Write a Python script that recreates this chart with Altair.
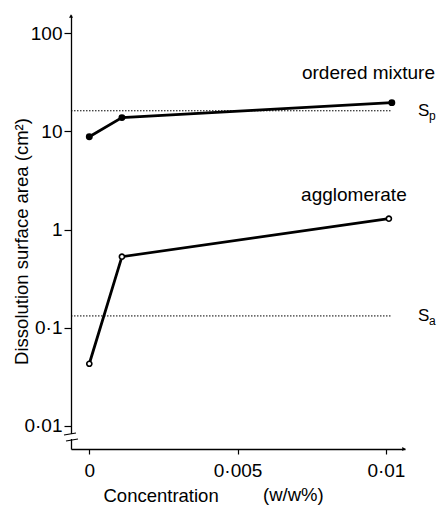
import altair as alt
import pandas as pd

# ---- data ----
conc_ordered = [0.0, 0.0011, 0.0102]
area_ordered = [8.8, 13.8, 19.6]
conc_agglom = [0.0, 0.0011, 0.0101]
area_agglom = [0.043, 0.53, 1.29]
ref_names = ["Sp", "Sa"]
ref_levels = [16.2, 0.132]
ref_x_start = -0.000617
ref_x_end = 0.0102
x_ticks = [0, 0.005, 0.01]
y_ticks = [0.01, 0.1, 1, 10, 100]
series_labels = ["ordered mixture", "agglomerate"]
label_x = [0.00717, 0.00714]
label_y = [34.4, 1.97]

X_DOMAIN = [-0.000617, 0.010644]
Y_DOMAIN = [0.00583, 153]
FONT = "Liberation Sans"

df_ord = pd.DataFrame({"x": conc_ordered, "y": area_ordered})
df_agg = pd.DataFrame({"x": conc_agglom, "y": area_agglom})
df_ref = pd.DataFrame({"x": [ref_x_start] * 2, "x2": [ref_x_end] * 2,
                       "y": ref_levels, "name": ref_names})
df_lab = pd.DataFrame({"x": label_x, "y": label_y, "t": series_labels})

xs = alt.Scale(domain=X_DOMAIN, nice=False, zero=False)
ys = alt.Scale(type="log", domain=Y_DOMAIN, nice=False)

x_axis = alt.Axis(values=x_ticks, grid=False, tickSize=5, labelPadding=7,
                  labelExpr="replace(format(datum.value, ''), '.', '·')",
                  labelFont=FONT, labelFontSize=19, labelColor="black",
                  domainColor="black", domainWidth=1.3, tickColor="black", tickWidth=1.2,
                  title="Concentration", titleFont=FONT, titleFontSize=18.5,
                  titleFontWeight="normal", titleColor="black",
                  titleX=32, titleY=52, titleAlign="left", titleBaseline="alphabetic",
                  titleAnchor="start")
y_axis = alt.Axis(values=y_ticks, grid=False, tickSize=7, labelPadding=2,
                  labelExpr="replace(format(datum.value, ''), '.', '·')",
                  labelFont=FONT, labelFontSize=19, labelColor="black",
                  domainColor="black", domainWidth=1.3, tickColor="black", tickWidth=1.2,
                  title="Dissolution surface area (cm²)", titleFont=FONT,
                  titleFontSize=18.5, titleFontWeight="normal", titleColor="black",
                  titleX=-44, titleY=226, titleAlign="center", titleBaseline="alphabetic",
                  titleAngle=270)

X = alt.X("x:Q", scale=xs, axis=x_axis, title="Concentration")
Y = alt.Y("y:Q", scale=ys, axis=y_axis, title="Dissolution surface area (cm²)")

ref_lines = alt.Chart(df_ref).mark_rule(color="black", strokeWidth=1,
                                         strokeDash=[1.5, 1.5]).encode(
    x=X, x2="x2:Q", y=Y)

line_ord = alt.Chart(df_ord).mark_line(color="black", strokeWidth=2.8).encode(x=X, y=Y)
pts_ord = alt.Chart(df_ord).mark_point(filled=True, color="black", size=48,
                                       opacity=1).encode(x=X, y=Y)
line_agg = alt.Chart(df_agg).mark_line(color="black", strokeWidth=2.8).encode(x=X, y=Y)
pts_agg = alt.Chart(df_agg).mark_point(filled=True, fill="white", stroke="black",
                                       strokeWidth=1.6, size=26, opacity=1).encode(x=X, y=Y)

labels = alt.Chart(df_lab).mark_text(font=FONT, fontSize=19, align="left",
                                     baseline="alphabetic", color="black").encode(
    x=X, y=Y, text="t:N")

# S_p and S_a annotations
df_s = pd.DataFrame({"y": ref_levels, "s": ["S", "S"], "sub": ["p", "a"]})
s_main = alt.Chart(df_s).mark_text(font=FONT, fontSize=17, align="left",
                                   baseline="middle", color="black").encode(
    x=alt.value(347), y=Y, text="s:N")
s_sub = alt.Chart(df_s).mark_text(font=FONT, fontSize=12, align="left",
                                  baseline="middle", color="black", dy=5).encode(
    x=alt.value(358), y=Y, text="sub:N")

unit = alt.Chart(pd.DataFrame({"t": ["(w/w%)"]})).mark_text(
    font=FONT, fontSize=18.5, align="left", baseline="alphabetic", color="black").encode(
    x=alt.value(192), y=alt.value(486), text="t:N")

# axis decorations: arrow heads and axis break
arrow_up = alt.Chart(pd.DataFrame({"k": [0]})).mark_point(
    shape="triangle-up", filled=True, color="black", size=16, opacity=1).encode(
    x=alt.value(0), y=alt.value(1))
arrow_right = alt.Chart(pd.DataFrame({"k": [0]})).mark_point(
    shape="triangle-right", filled=True, color="black", size=16, opacity=1).encode(
    x=alt.value(333), y=alt.value(434))
gap = alt.Chart(pd.DataFrame({"k": [0]})).mark_rect(color="white").encode(
    x=alt.value(-3), x2=alt.value(3), y=alt.value(419), y2=alt.value(424))
brk1 = alt.Chart(pd.DataFrame({"k": [0]})).mark_rule(color="black", strokeWidth=1.2).encode(
    x=alt.value(-7), x2=alt.value(5), y=alt.value(420), y2=alt.value(418))
brk2 = alt.Chart(pd.DataFrame({"k": [0]})).mark_rule(color="black", strokeWidth=1.2).encode(
    x=alt.value(-5), x2=alt.value(7), y=alt.value(426), y2=alt.value(424))

chart = alt.layer(
    ref_lines, line_ord, line_agg, pts_ord, pts_agg, labels, s_main, s_sub, unit,
    arrow_up, arrow_right, gap, brk1, brk2
).properties(
    width=334, height=434,
    autosize=alt.AutoSizeParams(type="none"),
    padding={"left": 71, "top": 15, "right": 34, "bottom": 57},
).configure(background="white", view=alt.ViewConfig(stroke=None))

chart.save("out.html", embed_options={"renderer": "svg", "actions": False})
